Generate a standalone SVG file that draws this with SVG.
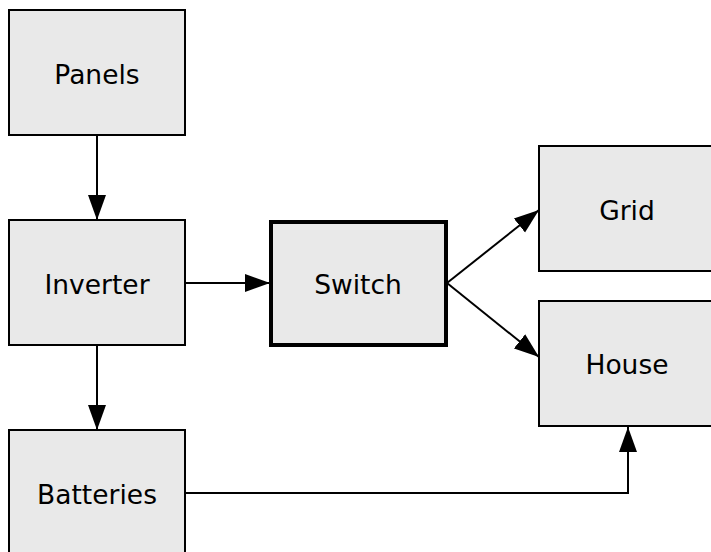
<svg xmlns="http://www.w3.org/2000/svg" width="711" height="552" viewBox="0 0 711 552">
<defs>
<marker id="ah" markerWidth="26" markerHeight="20" refX="25" refY="10" orient="auto" markerUnits="userSpaceOnUse">
<path d="M0,1 L25,10 L0,19 Z" fill="#000"/>
</marker>
<style>
.box{fill:#e9e9e9;stroke:#000;stroke-width:2}
.thick{stroke-width:4}
.lbl{font-family:"DejaVu Sans",sans-serif;font-size:26.5px;fill:#000;text-anchor:middle;dominant-baseline:central}
.c{fill:none;stroke:#000;stroke-width:2;marker-end:url(#ah)}
</style>
</defs>
<rect width="711" height="552" fill="#fff"/>
<g id="connectors">
<line class="c" x1="97" y1="135" x2="97" y2="220"/>
<line class="c" x1="97" y1="345" x2="97" y2="430"/>
<line class="c" x1="185" y1="283" x2="270" y2="283"/>
<line class="c" x1="447" y1="283" x2="539" y2="210"/>
<line class="c" x1="447" y1="283" x2="539" y2="357"/>
<polyline class="c" points="185,493 628,493 628,427"/>
</g>
<g id="panels"><rect class="box" x="9" y="10" width="176" height="125"/><text class="lbl" x="97" y="74">Panels</text></g>
<g id="inverter"><rect class="box" x="9" y="220" width="176" height="125"/><text class="lbl" x="97" y="284">Inverter</text></g>
<g id="batteries"><rect class="box" x="9" y="430" width="176" height="125"/><text class="lbl" x="97" y="494">Batteries</text></g>
<g id="switch"><rect class="box thick" x="271" y="222" width="175" height="123"/><text class="lbl" x="358" y="284">Switch</text></g>
<g id="grid"><rect class="box" x="539" y="146" width="176" height="125"/><text class="lbl" x="627" y="210">Grid</text></g>
<g id="house"><rect class="box" x="539" y="301" width="176" height="125"/><text class="lbl" x="627" y="364">House</text></g>
</svg>
